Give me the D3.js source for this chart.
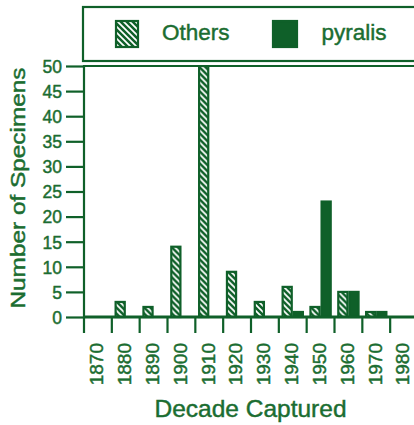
<!DOCTYPE html>
<html>
<head>
<meta charset="utf-8">
<script src="https://cdn.jsdelivr.net/npm/d3@7"></script>
<style>
  html, body { margin: 0; padding: 0; background: #fff; }
  svg { display: block; font-family: "Liberation Sans", Arial, sans-serif; }
  svg text { stroke: #1b6d31; stroke-width: 0.45px; }
</style>
</head>
<body>
<div id="chart"></div>
<script>
// Values
const decades = ['1870', '1880', '1890', '1900', '1910', '1920', '1930', '1940', '1950', '1960', '1970', '1980']
const others = [0, 3, 2, 14, 50, 9, 3, 6, 2, 5, 1, 0]
const pyralis = [0, 0, 0, 0, 0, 0, 0, 1, 23, 5, 1, 0]
const yTicks = [0, 5, 10, 15, 20, 25, 30, 35, 40, 45, 50]
const seriesNames = ['Others', 'pyralis']

const width = 414
const height = 425
const lineColor = '#0f6029'
const textColor = '#1b6d31'

const svg = d3.select('#chart')
  .append('svg')
  .attr('width', width)
  .attr('height', height)

// Hatch pattern for "Others"
const defs = svg.append('defs')
const hatch = defs.append('pattern')
  .attr('id', 'hatch')
  .attr('patternUnits', 'userSpaceOnUse')
  .attr('width', 6)
  .attr('height', 6)
hatch.append('rect')
  .attr('width', 6)
  .attr('height', 6)
  .attr('fill', lineColor)
hatch.append('path')
  .attr('d', 'M-1,-1L7,7M-1,5L1,7M5,-1L7,1')
  .attr('stroke', '#fff')
  .attr('stroke-width', 1.7)

defs.append('clipPath')
  .attr('id', 'plotClip')
  .append('rect')
  .attr('x', 0).attr('y', 66)
  .attr('width', width).attr('height', 260)

// Scales
const x = d3.scaleBand()
  .domain(decades)
  .range([84, 418])

const x1 = d3.scaleBand()
  .domain(seriesNames)
  .range([0, x.bandwidth()])
  .paddingOuter(0.25)

const y = d3.scaleLinear()
  .domain([0, 50])
  .range([317, 66])

const rows = decades.map((d, i) => ({ decade: d, Others: others[i], pyralis: pyralis[i] }))

// Bars
const bars = svg.append('g').attr('clip-path', 'url(#plotClip)')
bars.selectAll('g')
  .data(rows)
  .join('g')
  .attr('transform', d => `translate(${x(d.decade)},0)`)
  .selectAll('rect')
  .data(d => seriesNames.map(k => ({ key: k, value: d[k] })))
  .join('rect')
  .attr('x', d => x1(d.key) + 1)
  .attr('width', x1.bandwidth() - 2)
  .attr('y', d => y(d.value))
  .attr('height', d => y(0) - y(d.value))
  .attr('fill', d => d.key === 'Others' ? 'url(#hatch)' : lineColor)
  .attr('stroke', lineColor)
  .attr('stroke-width', 2.2)

// Top frame line
svg.append('line')
  .attr('x1', 84).attr('x2', width)
  .attr('y1', y(50)).attr('y2', y(50))
  .attr('stroke', lineColor)
  .attr('stroke-width', 2.2)

// Y axis
const yAxis = svg.append('g')
  .attr('transform', 'translate(84,0)')
  .call(d3.axisLeft(y).tickValues(yTicks).tickSize(18).tickPadding(4))
yAxis.select('.domain').remove()
yAxis.selectAll('line').attr('stroke', lineColor).attr('stroke-width', 2.2)
yAxis.selectAll('text')
  .attr('fill', textColor)
  .style('font-size', '17.5px')
  .attr('dy', '0.36em')

svg.append('line')
  .attr('x1', 84).attr('x2', 84)
  .attr('y1', y(50) - 1).attr('y2', 333)
  .attr('stroke', lineColor)
  .attr('stroke-width', 2.2)

// X axis: ticks at band edges, labels at band centres
svg.append('g')
  .selectAll('line')
  .data(decades.slice(1))
  .join('line')
  .attr('x1', d => x(d)).attr('x2', d => x(d))
  .attr('y1', y(0)).attr('y2', 333)
  .attr('stroke', lineColor)
  .attr('stroke-width', 2.2)

svg.append('line')
  .attr('x1', 83).attr('x2', width)
  .attr('y1', y(0)).attr('y2', y(0))
  .attr('stroke', lineColor)
  .attr('stroke-width', 3.2)

svg.append('g')
  .selectAll('text')
  .data(decades)
  .join('text')
  .attr('transform', d => `translate(${x(d) + x.bandwidth() / 2 - 1.5},343) rotate(-90)`)
  .attr('text-anchor', 'end')
  .attr('dy', '0.36em')
  .attr('fill', textColor)
  .style('font-size', '19px')
  .text(d => d)

// Axis titles
svg.append('text')
  .attr('x', 250.5)
  .attr('y', 417)
  .attr('text-anchor', 'middle')
  .attr('fill', textColor)
  .style('font-size', '24.5px')
  .text('Decade Captured')

svg.append('text')
  .attr('transform', 'translate(25,188) rotate(-90) scale(1.25,1)')
  .attr('text-anchor', 'middle')
  .attr('fill', textColor)
  .style('font-size', '19.5px')
  .text('Number of Specimens')

// Legend
const legend = svg.append('g')
legend.append('rect')
  .attr('x', 83).attr('y', 7)
  .attr('width', 360).attr('height', 54)
  .attr('fill', '#fff')
  .attr('stroke', lineColor)
  .attr('stroke-width', 2.2)

const legendItems = [
  { name: 'Others', fill: 'url(#hatch)', sx: 116, sw: 22, tx: 162 },
  { name: 'pyralis', fill: lineColor, sx: 273, sw: 24, tx: 321.5 }
]
legendItems.forEach(item => {
  legend.append('rect')
    .attr('x', item.sx).attr('y', 21)
    .attr('width', item.sw).attr('height', 26)
    .attr('fill', item.fill)
    .attr('stroke', lineColor)
    .attr('stroke-width', 2.2)
  legend.append('text')
    .attr('x', item.tx).attr('y', 39.5)
    .attr('fill', textColor)
    .style('font-size', '22.5px')
    .text(item.name)
})
</script>
</body>
</html>
